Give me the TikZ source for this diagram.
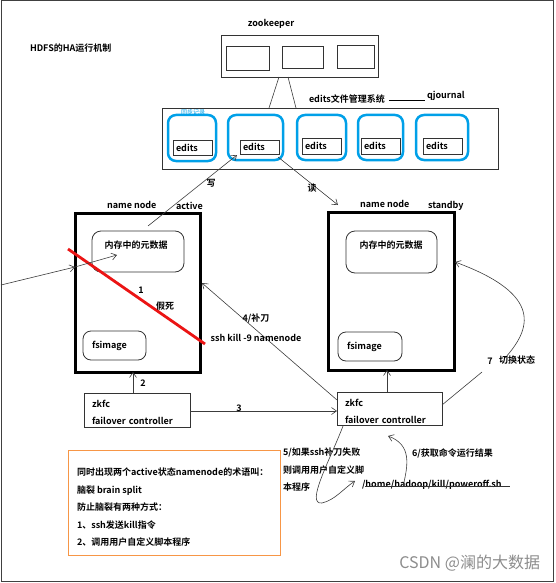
\documentclass[tikz,border=0pt]{standalone}
\usepackage{fontspec}
\setmainfont{Noto Sans CJK SC}[BoldFont={Noto Sans CJK SC Bold}]
\usetikzlibrary{arrows.meta,calc}
\definecolor{qblue}{RGB}{0,160,232}
\definecolor{nred}{RGB}{235,20,20}
\definecolor{norange}{RGB}{247,150,70}
\definecolor{lgray}{RGB}{60,60,60}
\begin{document}
\begin{tikzpicture}[x=1pt,y=-1pt,
  font=\fontsize{9}{10}\selectfont\bfseries,
  txt/.style={inner sep=0pt, outer sep=0pt},
  box/.style={draw=black!80, line width=0.9pt, anchor=north west, inner sep=0pt, outer sep=0pt},
  thick box/.style={draw=black, line width=3pt, anchor=north west, inner sep=0pt, outer sep=0pt},
  bluebox/.style={draw=qblue, line width=2.5pt, rounded corners=8pt, anchor=north west, inner sep=0pt, outer sep=0pt},
  ebox/.style={box, inner xsep=3pt, inner ysep=0pt, text width=33pt, align=left},
  rbox/.style={draw=black!80, line width=0.8pt, rounded corners=9pt, anchor=north west, inner sep=0pt, outer sep=0pt},
  zkbox/.style={box, minimum height=34pt, inner xsep=8pt, align=left, font=\fontsize{9}{17}\selectfont\bfseries},
  conn/.style={draw=lgray, line width=0.6pt},
  arr/.style={conn, -{Straight Barb[length=5pt,width=7pt]}}
]
\useasboundingbox (0,0) rectangle (555,583);
\draw[line width=1pt, black!75] (1,1) rectangle (553,581);

% title
\node[txt, anchor=west] (title) at (30,48) {HDFS的HA运行机制};

% zookeeper
\node[txt] (zklbl) at (271,24) {zookeeper};
\node[box, minimum width=157pt, minimum height=42pt] (zk) at (221,35) {};
\node[box, minimum width=43pt, minimum height=24pt] (zk1) at (226,46) {};
\node[box, minimum width=41pt, minimum height=22pt] (zk2) at (282,46) {};
\node[box, minimum width=37pt, minimum height=23pt] (zk3) at (337,45) {};

% edits management system
\node[box, minimum width=336pt, minimum height=61pt] (qj) at (162,108) {};
\draw[conn] ($(zk.south west)+(58,0)$) -- ($(qj.north west)+(107,0)$);
\draw[conn] ($(zk.south west)+(67,0)$) -- ($(qj.north west)+(134,0)$);
\node[txt, anchor=west] (qjlbl) at (309,99) {edits文件管理系统};
\node[txt, anchor=west] (qjname) at (427,96) {qjournal};
\draw[conn, black] ($(qjlbl.east)+(4,1)$) -- ($(qjname.west)+(-2,4)$);

\node[bluebox, minimum width=48pt, minimum height=46pt] (j1) at (168,115) {};
\node[bluebox, minimum width=55pt, minimum height=45pt] (j2) at (228,115) {};
\node[bluebox, minimum width=49pt, minimum height=45pt] (j3) at (297,115) {};
\node[bluebox, minimum width=45pt, minimum height=45pt] (j4) at (358,115) {};
\node[bluebox, minimum width=52pt, minimum height=45pt] (j5) at (416,115) {};
\node[txt, text=qblue, font=\fontsize{6}{6}\selectfont] (jlbl) at (193,112) {同步记录};

\node[ebox, minimum height=15pt] (e1) at (173,140) {edits};
\node[ebox, minimum height=14pt] (e2) at (240,140) {edits};
\node[ebox, minimum height=16pt] (e3) at (302,138) {edits};
\node[ebox, minimum height=16pt] (e4) at (361,138) {edits};
\node[ebox, minimum height=16pt] (e5) at (423,138) {edits};

% active namenode
\node[thick box, minimum width=125pt, minimum height=159pt] (nnA) at (75,213) {};
\node[txt, anchor=west] (nnAlbl) at (107,205) {name node};
\node[txt, anchor=west] (nnAst) at (176,206) {active};
\node[rbox, minimum width=92pt, minimum height=41pt] (memA) at (92,231) {};
\node[txt] (memAt) at (136,245) {内存中的元数据};
\node[rbox, minimum width=63pt, minimum height=29pt, inner xsep=9pt, text width=45pt, align=left, rounded corners=8pt] (fsA) at (83,331) {fsimage};

% standby namenode
\node[thick box, minimum width=126pt, minimum height=158pt] (nnS) at (328,212) {};
\node[txt, anchor=west] (nnSlbl) at (360,204) {name node};
\node[txt, anchor=west] (nnSst) at (428,206) {standby};
\node[rbox, minimum width=91pt, minimum height=42pt] (memS) at (346,231) {};
\node[txt] (memSt) at (391,245) {内存中的元数据};
\node[rbox, minimum width=64pt, minimum height=29pt, inner xsep=9pt, text width=46pt, align=left, rounded corners=8pt] (fsS) at (338,332) {fsimage};

% red cross line
\coordinate (r1) at (68,249);
\coordinate (r2) at (205,344);
\draw[nred, line width=2.8pt] (r1) -- (r2);
\node[txt] (one) at (141,290) {1};
\node[txt] (dead) at (165,306) {假死};

% incoming arrow from left
\coordinate (lin) at (1,285);
\coordinate (lmid) at (75,267);
\coordinate (lend) at (117,255);
\draw[arr] (lin) -- (lmid);
\draw[arr] (lmid) -- (lend);

% write / read
\draw[arr] ($(nnA.north west)+(73,13)$) -- ($(j2.south west)+(9,-5)$);
\node[txt] (w) at (211,183) {写};
\draw[arr] ($(j2.south west)+(50,-3)$) -- ($(nnS.north west)+(10,-7)$);
\node[txt] (r) at (312,188) {读};

% zkfc boxes
\node[zkbox, minimum width=106pt, text width=90pt] (zkA) at (84,393) {\rule{0pt}{13pt}zkfc\\failover controller};
\node[zkbox, minimum width=105pt, minimum height=33pt, text width=89pt] (zkB) at (337,392) {\rule{0pt}{13pt}zkfc\\failover controller};

\draw[arr] (zkA.north -| 133,0) -- (nnA.south -| 133,0);
\node[txt] (two) at (143,383) {2};
\draw[arr] (zkA.east |- 0,411) -- (zkB.west |- 0,411);
\node[txt] (three) at (239,408) {3};
\draw[arr] (zkB.north -| 387,0) -- (nnS.south -| 387,0);

% 4 kill
\draw[arr] ($(zkB.north west)+(0,8)$) -- ($(nnA.north east)+(2,70)$);
\node[txt] (four) at (256,318) {4/补刀};
\node[txt] (fourb) at (256,338) {ssh kill -9 namenode};

% 7 switch
\coordinate (s7a) at (482,372);
\coordinate (s7b) at (505,358);
\draw[conn] ($(zkB.north east)+(0,13)$) -- (s7a);
\draw[arr] (s7b) .. controls (530,330) and (545,295) .. ($(nnS.north east)+(1,50)$);
\node[txt] (seven) at (490,361) {7};
\node[txt, anchor=west] (sevenl) at (499,360) {切换状态};

% 5 script
\coordinate (c5) at (322,503);
\draw[arr] ($(zkB.south west)+(6,1)$) .. controls (330,460) and (305,505) .. (c5) .. controls (335,500) and (343,489) .. (355,481);
\node[txt, anchor=north west, align=left, font=\fontsize{9}{17.5}\selectfont\bfseries] (five) at (283,448) {5/如果ssh补刀失败\\则调用用户自定义脚\\本程序};

% 6 result
\node[txt, anchor=west] (ps) at (362,485) {/home/hadoop/kill/poweroff.sh};
\draw[conn, black!80] ($(ps.south west)+(3,-3)$) -- ($(ps.south east)+(8,-3)$);
\draw[arr] ($(ps.south west)+(41,-3)$) .. controls (408,465) and (412,445) .. (388,436);
\node[txt, anchor=west] (six) at (412,453) {6/获取命令运行结果};

% note
\node[draw=norange, line width=1pt, anchor=north west, minimum width=212pt, minimum height=105pt, inner sep=0pt] (note) at (68,450) {};
\node[txt, anchor=north west, align=left, font=\fontsize{9}{17.5}\selectfont\bfseries] (notet) at (77,468) {同时出现两个active状态namenode的术语叫：\\脑裂 brain split\\防止脑裂有两种方式：\\1、ssh发送kill指令\\2、调用用户自定义脚本程序};

% watermark
\node[txt, text=black!45, font=\fontsize{16}{16}\selectfont, anchor=east] (wm) at (540,563) {CSDN @澜的大数据};
\end{tikzpicture}
\end{document}
